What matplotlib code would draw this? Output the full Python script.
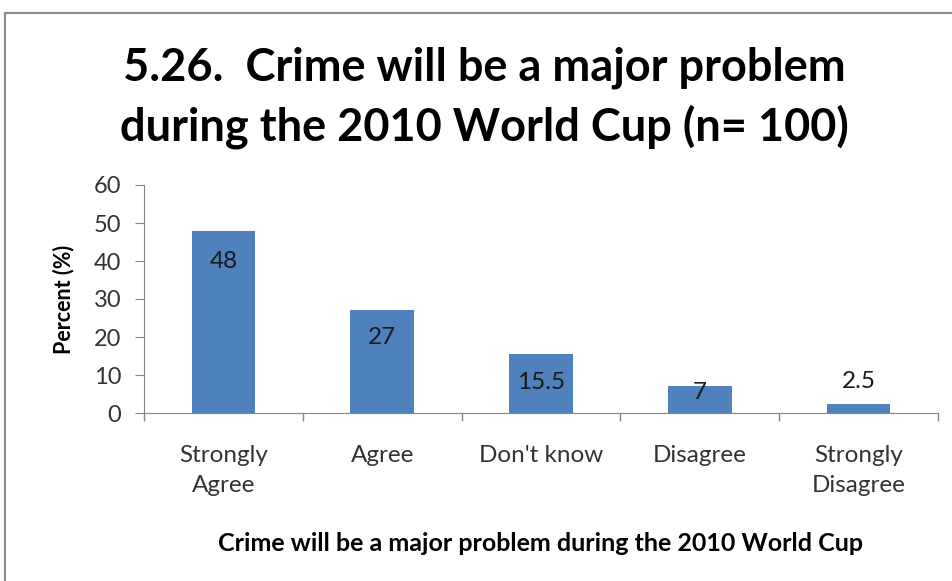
import numpy as np
import matplotlib.pyplot as plt
from matplotlib.lines import Line2D

categories = ['Strongly\nAgree', 'Agree', "Don't know", 'Disagree', 'Strongly\nDisagree']
values = [48, 27, 15.5, 7, 2.5]
value_labels = ['48', '27', '15.5', '7', '2.5']

plt.rcParams['font.family'] = ['Lato', 'DejaVu Sans']

fig = plt.figure(figsize=(9.53, 5.81), dpi=100)
W, H = 953, 581
ax = fig.add_axes([144 / W, 1 - 413 / H, (938 - 144) / W, (413 - 185) / H])

x = np.arange(len(values))
bar_color = '#4f81bd'
ax.bar(x, values, width=0.4, color=bar_color, zorder=2)

# Excel-style "inside end" labels, pushed up for the small bars
offsets_px = [-31, -27, -28, -6, 22]
for xi, v, lab, off in zip(x, values, value_labels, offsets_px):
    ax.annotate(lab, (xi, v), xytext=(0, off * 0.72), textcoords='offset points',
                ha='center', va='center', fontsize=17.5, color='#1a1a1a')

ax.set_xlim(-0.5, len(values) - 0.5)
ax.set_ylim(0, 60)
ax.set_yticks(range(0, 61, 10))
ax.set_xticks(x)
ax.set_xticklabels(categories, fontsize=17.5, color='#333333', linespacing=1.55)
ax.set_xticks(np.arange(-0.5, len(values), 1), minor=True)
ax.tick_params(axis='x', which='major', length=0, pad=23)
ax.tick_params(axis='x', which='minor', length=6, color='#868686', width=1)
ax.tick_params(axis='y', length=6.5, color='#868686', labelsize=17, labelcolor='#333333', pad=10)

for s in ['top', 'right']:
    ax.spines[s].set_visible(False)
for s in ['left', 'bottom']:
    ax.spines[s].set_color('#868686')

ax.set_ylabel('Percent (%)', fontsize=15.5, fontweight='bold', labelpad=14)
ax.set_xlabel('Crime will be a major problem during the 2010 World Cup',
              fontsize=18, fontweight='bold', labelpad=26)

fig.text(484 / W, 1 - 98 / H, '5.26.  Crime will be a major problem\nduring the 2010 World Cup (n= 100)',
         ha='center', va='center', fontsize=32.5, fontweight='bold', linespacing=1.42)

# outer chart frame (only left and top visible in the crop)
fig.add_artist(Line2D([5 / W, 5 / W], [0, 1 - 13 / H], transform=fig.transFigure,
                      color='#8c8c8c', lw=1.5))
fig.add_artist(Line2D([5 / W, 1], [1 - 13 / H, 1 - 13 / H], transform=fig.transFigure,
                      color='#8c8c8c', lw=1.5))

fig.savefig('out.png', dpi=100)
